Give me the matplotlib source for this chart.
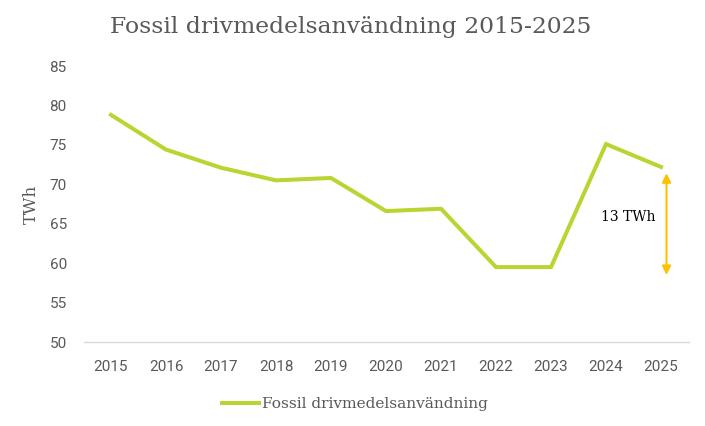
import matplotlib
matplotlib.use("Agg")
import matplotlib.pyplot as plt

years = ["2015", "2016", "2017", "2018", "2019", "2020", "2021", "2022", "2023", "2024", "2025"]
values = [78.8, 74.4, 72.1, 70.5, 70.8, 66.6, 66.9, 59.5, 59.5, 75.1, 72.2]
series_name = "Fossil drivmedelsanvändning"
title = "Fossil drivmedelsanvändning 2015-2025"
yticks = [50, 55, 60, 65, 70, 75, 80, 85]
arrow_top, arrow_bottom = 71.4, 58.5
annot_text = "13 TWh"
annot_y = 65.8

line_color = "#BBD431"
gray = "#595959"

fig = plt.figure(figsize=(7.05, 4.26), dpi=100)
ax = fig.add_axes([83.5/705, 84/426, 605/705, 276/426])

x = list(range(len(years)))
ax.plot(x, values, color=line_color, lw=2.9, solid_joinstyle="miter", label=series_name)

ax.set_xlim(-0.5, len(years) - 0.5)
ax.set_ylim(50, 85)
ax.set_xticks(x)
ax.set_xticklabels(years)
ax.set_yticks(yticks)
ax.set_yticklabels([str(v) for v in yticks])

for s in ["top", "right", "left"]:
    ax.spines[s].set_visible(False)
ax.spines["bottom"].set_color("#D9D9D9")
ax.spines["bottom"].set_linewidth(1.0)
ax.tick_params(axis="both", length=0, labelsize=11, labelcolor=gray)
ax.tick_params(axis="y", pad=12)
ax.tick_params(axis="x", pad=13)
for lab in ax.get_xticklabels() + ax.get_yticklabels():
    lab.set_family("Roboto")

ax.set_ylabel("TWh", family="DejaVu Serif", fontsize=12.2, color=gray, labelpad=7)

# annotation arrow
ax.annotate("", xy=(10.1, arrow_top), xytext=(10.1, arrow_bottom),
            arrowprops=dict(arrowstyle="<|-|>", color="#FFC000", lw=1.5,
                            mutation_scale=13, shrinkA=0, shrinkB=0))
ax.text(9.4, annot_y, annot_text, family="DejaVu Serif", fontsize=10,
        color="black", ha="center", va="center")

fig.text(351/705, 1 - 27/426, title, family="DejaVu Serif", fontsize=16.9,
         color=gray, ha="center", va="center")

leg = fig.legend(handles=ax.get_lines(), loc="center", bbox_to_anchor=(354.5/705, 1 - 404/426),
                 frameon=False, handlelength=2.4, handletextpad=0.2,
                 prop=dict(family="DejaVu Serif", size=11.1))
for t in leg.get_texts():
    t.set_color(gray)

fig.savefig("out.png", dpi=100)
